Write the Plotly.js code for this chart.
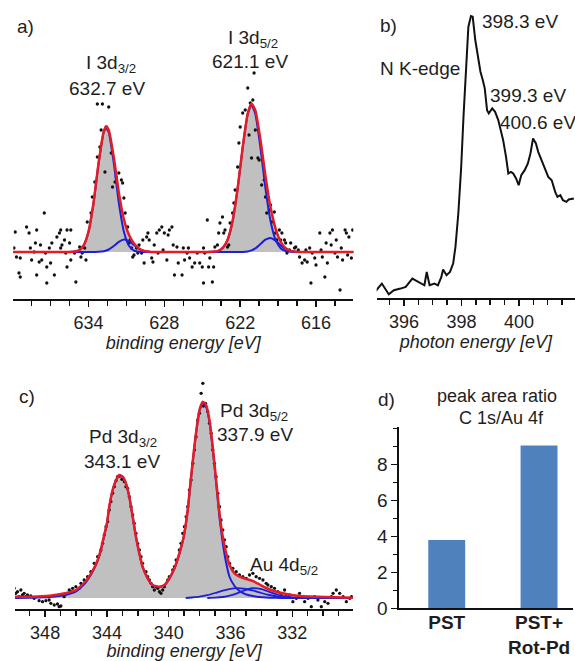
<!DOCTYPE html>
<html><head><meta charset="utf-8">
<script src="https://cdn.plot.ly/plotly-3.0.1.min.js"></script>
<style>html,body{margin:0;padding:0;background:#fff}#chart{width:575px;height:661px}</style>
</head><body><div id="chart"></div>
<script>
// ---------- Panel a: I 3d XPS ----------
const panelA_fitX   = [640,636,635.6,635.2,634.8,634.4,634.0,633.6,633.2,632.8,632.6,632.4,632.0,631.6,631.2,630.8,630.4,630.0,629.6,629.2,628.8,625,624.6,624.2,623.8,623.4,623.0,622.6,622.2,621.8,621.4,621.1,620.8,620.4,620.0,619.6,619.2,618.8,618.4,618.0,617.6,617.2,613];
const panelA_fitMain= [0,0,0,0.2,1.4,6.2,20.2,49.1,88.9,119.5,124,119.5,88.9,49.1,20.2,6.2,1.4,0.2,0,0,0,0,0,0.2,0.9,3.8,12.1,31.0,63.6,104.7,138.1,147,138.1,104.7,63.6,31.0,12.1,3.8,0.9,0.2,0,0,0];
const panelA_fitSat = [0,0,0,0,0,0,0,0.1,0.2,0.8,1.5,2.5,6.0,10.2,12.5,11.0,7.0,3.2,1.1,0.3,0,0,0,0,0,0,0,0,0,0.1,0.6,1.6,3.6,7.9,12.3,14.0,11.4,6.7,2.8,0.9,0.2,0,0];
const panelA_fitSum = [0,0,0,0.2,1.4,6.2,20.2,49.2,89.1,120.3,125.5,122.0,94.9,59.3,32.7,17.2,8.4,3.4,1.1,0.3,0,0,0,0.2,0.9,3.8,12.1,31.0,63.6,104.8,138.7,148.6,141.7,112.6,75.9,45.0,23.5,10.5,3.7,1.1,0.2,0,0];
const panelA_dots = [
[639.8,20],[639.9,4],[639.7,-5],[639.4,-6],[639.5,-21],[639.4,-25],[638.9,25],[638.7,19],[638.6,4],[638.5,-8],
[638.3,0],[638.2,9],[638.1,22],[638.1,-23],[637.9,-10],[637.8,7],[637.7,-8],[637.5,39],[637.4,-1],[637.3,-15],
[637.3,-31],[637.1,4],[637.0,-11],[636.9,9],[636.7,-23],[636.5,15],[636.3,19],[636.2,22],[636.2,4],[636.1,7],
[635.9,12],[635.8,-1],[635.7,22],[635.7,-15],[635.5,9],[635.4,22],[635.4,-8],[635.1,-1],[635.0,-30],[634.7,5],
[634.6,-5],[634.5,-1],[634.3,4],[634.2,-8],[634.1,30],[633.8,39],[633.7,55],[633.5,70],[633.3,95],[633.1,105],
[633.0,122],[633.3,148],[632.9,148],[632.7,80],[632.6,125],[632.4,145],[632.2,99],[632.1,65],[631.9,70],[631.8,75],
[631.6,79],[631.4,72],[631.3,69],[631.2,54],[631.1,39],[630.9,25],[630.8,9],[630.7,12],[630.6,4],[630.5,-5],
[630.4,-3],[630.2,4],[630.1,-1],[630.0,7],[629.8,-1],[629.7,12],[629.6,-11],[629.4,15],[629.3,19],[629.2,12],
[629.0,-6],[628.9,-10],[628.8,7],[628.6,19],[628.5,-1],[628.4,22],[628.2,25],[628.1,2],[628.0,19],[627.8,-8],
[627.7,17],[627.6,22],[627.4,25],[627.3,7],[627.2,-23],[627.0,5],[626.9,-11],[626.6,-23],[626.5,4],[626.4,-8],
[626.2,-1],[626.1,4],[626.0,-6],[625.8,-15],[625.6,-11],[625.4,-1],[625.2,-11],[625.0,-15],[624.9,4],[624.9,-31],
[624.8,-1],[624.6,32],[624.5,-15],[624.4,-6],[624.2,-30],[624.1,-15],[624.0,5],[623.8,7],[623.7,19],[623.6,29],
[623.4,35],[623.3,19],[623.2,22],[623.0,5],[622.9,7],[622.8,29],[622.6,39],[622.5,49],[622.4,62],[622.2,85],
[622.1,109],[622.0,125],[621.8,139],[621.6,142],[621.4,164],[621.3,117],[621.2,149],[621.1,94],[621.0,152],[620.9,179],
[620.8,122],[620.6,94],[620.5,92],[620.3,67],[620.1,72],[620.0,55],[619.9,39],[619.7,42],[619.6,47],[619.5,30],
[619.3,40],[619.2,19],[619.1,12],[618.9,22],[618.8,12],[618.7,19],[618.5,12],[618.4,9],[618.3,-1],[618.1,2],
[618.0,9],[617.7,4],[617.6,5],[617.4,2],[617.3,-5],[617.1,-11],[616.9,-8],[616.8,2],[616.7,-10],[616.5,4],
[616.4,-31],[616.3,-1],[616.1,-6],[616.0,-13],[615.7,19],[615.6,2],[615.5,-5],[615.3,-25],[615.2,9],[615.1,-11],
[614.9,19],[614.8,7],[614.7,22],[614.5,-1],[614.4,12],[614.3,-5],[614.1,-38],[614.0,4],[613.9,-8],[613.7,22],
[613.6,19],[613.5,-3],[613.4,15],[613.2,-6],[613.1,22]];

// ---------- Panel b: N K-edge NEXAFS ----------
const panelB_x = [394.94,395.23,395.47,395.65,395.88,396.06,396.29,396.53,396.71,396.79,396.89,397.06,397.18,397.30,397.36,397.48,397.60,397.71,397.79,397.89,397.99,398.07,398.15,398.24,398.33,398.39,398.48,398.57,398.66,398.74,398.81,398.89,398.95,399.07,399.17,399.28,399.37,399.45,399.55,399.63,399.72,399.80,399.90,399.99,400.08,400.20,400.31,400.40,400.49,400.59,400.67,400.79,400.90,401.02,401.14,401.26,401.34,401.44,401.53,401.65,401.73,401.91];
const panelB_y = [4.7,14.7,4,8,9.7,11.3,19.7,16.3,13,26.3,13,14.7,13,21.3,28.7,23,26.3,34.7,51.3,84.7,131.3,181.3,231.3,271.3,282,281.3,258,243,226.3,218,209.7,188,184.7,189.7,186.3,178,168,158,141.3,124.7,126.3,124.7,119.7,113,123,128,134.7,144.7,159.7,154.7,146.3,138,131.3,121.3,118,106.3,101.3,103,98,96.3,98.7,99.7];

// ---------- Panel c: Pd 3d / Au 4d XPS ----------
const panelC_fitX  = [350.0,348.8,347.7,346.7,346.0,345.4,344.9,344.6,344.4,344.2,344.0,343.85,343.63,343.41,343.2,342.98,342.77,342.55,342.33,342.12,341.9,341.69,341.36,341.04,340.6,340.28,339.96,339.63,339.31,339.03,338.77,338.55,338.34,338.18,338.01,337.79,337.58,337.36,337.15,336.93,336.71,336.5,336.28,336.06,335.74,335.42,334.98,334.55,334.12,333.69,333.04,332.39,331.52,330.44,328.07];
const panelC_fitSum= [1.3,1.3,2.3,4.7,8,16.3,28,38,48,61.3,74.7,91.3,108,118,123,121.3,114.7,101.3,81.3,61.3,44.7,31.3,19.7,13,11.3,13,19.7,29.7,44.7,61.3,88,121.3,151.3,171.3,188,196.3,193,178,151.3,118,84.7,61.3,44.7,33,24.7,21.3,19,17,13.5,10,6.3,4,2,1.3,0.3];
const panelC_fitPd = [0,0.3,1.0,3.0,6.5,15,27,37,47,60.5,74,90.7,107.5,117.6,122.7,121,114.4,101,81,61,44.4,31,19.4,12.7,11,12.7,19.4,29.4,44.4,61,87.5,120.6,150.5,170.3,186.8,194.8,191.2,175.8,148.8,115,80,55,35,21,12,7,3.5,2,1,0.5,0.2,0,0,0,0];
const panelC_auAx  = [338.9,338.5,338,337.5,337,336.5,336,335.6,335,334.5,334,333.5,333,332.5,332,331.5];
const panelC_auA   = [0,0.5,1.3,2.8,5,7.4,9.2,9.8,9,7.3,5,3,1.5,0.6,0.2,0];
const panelC_auBx  = [337.5,337,336.5,336,335.5,335,334.6,334,333.5,333,332.5,332,331.5,331];
const panelC_auB   = [0,0.3,1,2.6,5.2,8.2,9.8,8.8,6.2,3.5,1.6,0.6,0.1,0];
const panelC_dots = [
[350.01,9.7],[349.90,4.7],[349.79,6.3],[349.68,1.3],[349.57,8],[349.47,3],[349.36,4.7],[349.25,1.3],[349.14,3],[348.93,2],
[348.71,-0.3],[348.39,-2.7],[348.17,-3.7],[347.95,-2.7],[347.74,-2],[347.63,-5.3],[347.41,-7],[347.20,-6],[347.09,-8.7],[346.98,-8],
[346.77,1.3],[346.55,4.7],[346.44,8],[346.33,6.3],[346.22,9.7],[346.01,11.3],[345.79,9.7],[345.68,14.7],[345.47,18],[345.25,21.3],
[345.04,26.3],[344.82,34.7],[344.60,41.3],[344.39,48],[344.28,54.7],[344.17,63],[344.06,71.3],[343.95,76.3],[343.85,88],[343.74,96.3],
[343.63,104.7],[343.52,111.3],[343.41,117.3],[343.31,121.3],[343.16,122],[343.03,118.7],[342.87,116.3],[342.77,111.3],[342.66,109.7],[342.55,101.3],
[342.44,91.3],[342.33,83],[342.23,74.7],[342.12,64.7],[342.01,54.7],[341.90,48],[341.79,41.3],[341.69,34.7],[341.47,26.3],[341.36,21.3],
[341.25,18],[341.14,14.7],[341.04,11.3],[340.93,8],[340.82,11.3],[340.71,9.7],[340.60,6.3],[340.50,4.7],[340.39,8],[340.28,11.3],
[340.06,18],[339.96,21.3],[339.74,28],[339.63,31.3],[339.52,38],[339.31,48],[339.20,54.7],[339.09,64.7],[338.98,71.3],[338.87,81.3],
[338.77,91.3],[338.66,108],[338.55,118],[338.44,134.7],[338.33,148],[338.23,161.3],[338.12,178],[338.01,184.7],[337.90,204.7],[337.79,214.7],
[337.75,192],[337.62,194.7],[337.47,186.3],[337.36,174.7],[337.25,164.7],[337.15,148],[337.04,134.7],[336.93,121.3],[336.82,104.7],[336.71,91.3],
[336.61,78],[336.50,68],[336.39,58],[336.28,51.3],[336.17,41.3],[336.06,34.7],[335.85,29.7],[335.63,26.3],[335.42,23],[335.20,21.3],
[334.98,19.7],[334.77,23],[334.55,24.7],[334.34,21.3],[334.12,19.7],[333.90,18],[333.69,14.7],[333.58,13],[333.36,11.3],[333.15,9.7],
[332.93,6.3],[332.71,4.7],[332.50,8],[332.39,1.3],[332.17,3],[331.96,-3.7],[331.74,-0.3],[331.53,4.7],[331.31,1.3],[331.20,-3.7],
[330.98,-0.3],[330.77,-8.7],[330.55,1.3],[330.34,-2],[330.12,-8.7],[329.90,-3.7],[329.69,-5.3],[329.47,1.3],[329.36,4.7],[329.15,8],
[328.93,4.7],[328.71,1.3],[328.50,-3.7],[328.28,-0.3],[328.17,1.3]];

// ---------- Panel d: peak area ratio ----------
const panelD_categories = ["PST", "PST+<br>Rot-Pd"];
const panelD_values = [3.8, 9.05];
const panelD_yTicks = [0, 2, 4, 6, 8];
const panelD_yMinorTicks = [1, 3, 5, 7, 9, 10];

// ---------- styling ----------
const FONT = "Liberation Sans, Arial, Helvetica, sans-serif";
const FS = 19;      // annotation text
const FA = 18;      // axis text
const TXT = "#1e1e1e";
const RED = "rgb(228,28,38)";
const BLUE = "rgb(30,30,215)";
const GRAY = "rgb(192,192,192)";

function fillTrace(x, y, xa, ya) {
  return {x, y, xaxis: xa, yaxis: ya, type: "scatter", mode: "lines", fill: "tozeroy",
          fillcolor: GRAY, line: {width: 0, color: GRAY}, hoverinfo: "skip"};
}
function lineTrace(x, y, xa, ya, color, w) {
  return {x, y, xaxis: xa, yaxis: ya, type: "scatter", mode: "lines",
          line: {color, width: w, shape: "spline", smoothing: 0.5}};
}
function dotTrace(pairs, xa, ya) {
  return {x: pairs.map(p => p[0]), y: pairs.map(p => p[1]), xaxis: xa, yaxis: ya,
          type: "scatter", mode: "markers", marker: {color: "#111", size: 3.3}};
}

const traces = [
  fillTrace(panelA_fitX, panelA_fitSum, "x", "y"),
  dotTrace(panelA_dots, "x", "y"),
  lineTrace(panelA_fitX, panelA_fitMain, "x", "y", BLUE, 2),
  lineTrace(panelA_fitX, panelA_fitSat, "x", "y", BLUE, 2),
  lineTrace(panelA_fitX, panelA_fitSum, "x", "y", RED, 2.5),

  {x: panelB_x, y: panelB_y, xaxis: "x2", yaxis: "y2", type: "scatter", mode: "lines",
   line: {color: "#111", width: 2}},

  fillTrace(panelC_fitX, panelC_fitSum, "x3", "y3"),
  dotTrace(panelC_dots, "x3", "y3"),
  lineTrace(panelC_fitX, panelC_fitPd, "x3", "y3", BLUE, 2),
  lineTrace(panelC_auAx, panelC_auA, "x3", "y3", BLUE, 1.8),
  lineTrace(panelC_auBx, panelC_auB, "x3", "y3", BLUE, 1.8),
  lineTrace(panelC_fitX, panelC_fitSum, "x3", "y3", RED, 2.5),

  {x: panelD_categories, y: panelD_values, xaxis: "x4", yaxis: "y4", type: "bar",
   width: 0.4, marker: {color: "rgb(79,129,189)"}}
];

const W = 575, H = 661;
const px = v => v / W;
const py = v => 1 - v / H;

function energyAxis(domL, domR, range, dtick, tick0, minorDtick, title) {
  return {
    domain: [px(domL), px(domR)], range, showgrid: false, zeroline: false,
    showline: true, linecolor: "#111", linewidth: 2,
    ticks: "outside", ticklen: 6, tickwidth: 1.5, tickcolor: "#111",
    dtick, tick0, tickfont: {family: FONT, size: FA, color: TXT},
    minor: {dtick: minorDtick, tick0, ticks: "outside", ticklen: 5, tickwidth: 1.5, tickcolor: "#111", showgrid: false},
    title: {text: title, font: {family: FONT, size: FA, color: TXT}, standoff: 4},
    fixedrange: true
  };
}
function hiddenY(domB, domT, range) {
  return {domain: [py(domB), py(domT)], range, visible: false, fixedrange: true};
}

const ann = (text, x, y, xanchor, size) => ({
  text, x: px(x), y: py(y), xref: "paper", yref: "paper", xanchor: xanchor || "center", yanchor: "middle",
  showarrow: false, font: {family: FONT, size: size || FS, color: TXT}
});

const layout = {
  width: W, height: H, margin: {l: 0, r: 0, t: 0, b: 0},
  paper_bgcolor: "#fff", plot_bgcolor: "rgba(0,0,0,0)", showlegend: false,
  font: {family: FONT, size: FA, color: TXT},
  xaxis: energyAxis(13.3, 353.3, [639.95, 613.05], 6, 616, 1.5, "<i>binding energy [eV]</i>"),
  yaxis: hiddenY(299, 60, [-47, 192]),
  xaxis2: Object.assign(energyAxis(376.7, 575, [395.05, 401.95], 2, 396, 0.5, "<i>photon energy [eV]</i>"), {anchor: "y2"}),
  yaxis2: Object.assign(hiddenY(298.3, 8, [0, 290]), {anchor: "x2"}),
  xaxis3: Object.assign(energyAxis(15, 353.3, [349.95, 328.05], 4, 332, 1, "<i>binding energy [eV]</i>"), {anchor: "y3"}),
  yaxis3: Object.assign(hiddenY(609, 370, [-11, 228]), {anchor: "x3"}),
  xaxis4: {
    domain: [px(399.3), px(573)], anchor: "y4", type: "category", range: [-0.514, 1.368],
    showline: true, linecolor: "#111", linewidth: 2, ticks: "", showgrid: false, zeroline: false,
    ticklabelstandoff: -4,
    tickfont: {family: FONT, size: FS, color: TXT, weight: "bold"}, fixedrange: true
  },
  yaxis4: {
    domain: [py(608.3), py(426.7)], anchor: "x4", range: [0, 10.1],
    showline: true, linecolor: "#111", linewidth: 2, showgrid: false, zeroline: false,
    ticks: "outside", ticklen: 6, tickwidth: 1.5, tickcolor: "#111",
    tickmode: "array", tickvals: panelD_yTicks,
    minor: {tickmode: "array", tickvals: panelD_yMinorTicks, ticks: "outside", ticklen: 4, tickwidth: 1.5, tickcolor: "#111", showgrid: false},
    tickfont: {family: FONT, size: FS, color: TXT}, fixedrange: true
  },
  annotations: [
    ann("a)", 15, 27, "left"),
    ann("I 3d<sub>3/2</sub>", 111, 64),
    ann("632.7 eV", 107, 88.5),
    ann("I 3d<sub>5/2</sub>", 253, 39),
    ann("621.1 eV", 250, 61.5),
    ann("b)", 378, 25, "left"),
    ann("N K-edge", 378, 68, "left"),
    ann("398.3 eV", 480, 22, "left"),
    ann("399.3 eV", 488, 96, "left"),
    ann("400.6 eV", 498, 122, "left"),
    ann("c)", 17, 396, "left"),
    ann("Pd 3d<sub>3/2</sub>", 123, 438),
    ann("343.1 eV", 122, 462),
    ann("Pd 3d<sub>5/2</sub>", 254, 412),
    ann("337.9 eV", 255, 434),
    ann("Au 4d<sub>5/2</sub>", 284, 566),
    ann("d)", 376, 399, "left"),
    ann("peak area ratio", 497, 396, "center", 18),
    ann("C 1s/Au 4f", 501, 418, "center", 18)
  ]
};

Plotly.newPlot("chart", traces, layout, {staticPlot: true, displayModeBar: false});
</script>
</body></html>
